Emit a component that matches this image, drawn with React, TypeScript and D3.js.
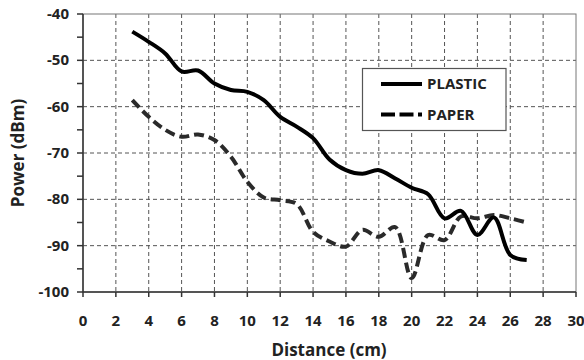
import React from 'react';
import * as d3 from 'd3';

const distance = [3, 4, 5, 6, 7, 8, 9, 10, 11, 12, 13, 14, 15, 16, 17, 18, 19, 20, 21, 22, 23, 24, 25, 26, 27];
const plastic = [-43.8, -46.0, -48.5, -52.4, -52.2, -55.0, -56.4, -56.8, -58.6, -62.2, -64.3, -66.8, -71.4, -73.7, -74.5, -73.7, -75.5, -77.5, -78.9, -84.1, -82.5, -87.7, -83.9, -92.0, -93.1];
const paper = [-58.6, -62.2, -65.0, -66.5, -66.0, -67.2, -70.8, -76.2, -79.6, -80.2, -81.0, -87.0, -89.1, -90.2, -86.6, -88.1, -86.0, -97.0, -87.7, -88.8, -83.7, -84.1, -83.4, -84.1, -85.0];
const xTicks = d3.range(0, 31, 2);
const yTicks = d3.range(-100, -39, 10);
const yMinor = d3.range(-95, -40, 10);

const W = 584;
const H = 360;
const margin = { top: 14, right: 8, bottom: 68, left: 83 };
const font = "'Open Sans', sans-serif";

export default function App() {
  const x = d3.scaleLinear().domain([0, 30]).range([margin.left, W - margin.right]);
  const y = d3.scaleLinear().domain([-100, -40]).range([H - margin.bottom, margin.top]);

  const line = d3.line<number>()
    .x((_, i) => x(distance[i]))
    .y(d => y(d))
    .curve(d3.curveCatmullRom.alpha(0.5));

  const x0 = x(0), x1 = x(30), y0 = y(-100), y1 = y(-40);

  return (
    <svg width={W} height={H} style={{ position: 'absolute', left: 0, top: 0, background: '#fff' }}>
      {/* grid */}
      <g stroke="#555" strokeWidth={1} strokeDasharray="4,3">
        {xTicks.filter(t => t > 0 && t < 30).map(t => (
          <line key={'gx' + t} x1={x(t)} x2={x(t)} y1={y1} y2={y0} />
        ))}
        {yTicks.filter(t => t > -100 && t < -40).map(t => (
          <line key={'gy' + t} x1={x0} x2={x1} y1={y(t)} y2={y(t)} />
        ))}
      </g>
      {/* plot border */}
      <rect x={x0} y={y1} width={x1 - x0} height={y0 - y1} fill="none" stroke="#777" strokeWidth={1} />
      {/* axes */}
      <line x1={x0} x2={x0} y1={y1} y2={y0} stroke="#333" strokeWidth={1.5} />
      <line x1={x0} x2={x1} y1={y0} y2={y0} stroke="#333" strokeWidth={1.5} />
      <g stroke="#333" strokeWidth={1.5}>
        {xTicks.map(t => (
          <line key={'tx' + t} x1={x(t)} x2={x(t)} y1={y0} y2={y0 + 5} />
        ))}
        {yTicks.concat(yMinor).map(t => (
          <line key={'ty' + t} x1={x0 - 6} x2={x0} y1={y(t)} y2={y(t)} />
        ))}
      </g>
      {/* tick labels */}
      <g fontFamily={font} fontWeight="bold" fontSize={15} fill="#222">
        {xTicks.map(t => (
          <text key={'lx' + t} x={x(t)} y={y0 + 34} textAnchor="middle">{t}</text>
        ))}
        {yTicks.map(t => (
          <text key={'ly' + t} x={x0 - 14} y={y(t) + 5} textAnchor="end">{t}</text>
        ))}
      </g>
      {/* axis titles */}
      <text x={329} y={356} textAnchor="middle" fontFamily={font} fontWeight="bold" fontSize={17} fill="#222">Distance (cm)</text>
      <text transform={`translate(24,${(y0 + y1) / 2}) rotate(-90)`} textAnchor="middle" fontFamily={font} fontWeight="bold" fontSize={17} fill="#222">Power (dBm)</text>
      {/* series */}
      <path d={line(paper) || ''} fill="none" stroke="#2a2a2a" strokeWidth={4} strokeDasharray="10,5" />
      <path d={line(plastic) || ''} fill="none" stroke="#000" strokeWidth={4} strokeLinejoin="round" />
      {/* legend */}
      <g>
        <rect x={362.5} y={68.5} width={143.5} height={62} fill="#fff" stroke="#555" strokeWidth={1.2} />
        <line x1={381} x2={422} y1={84} y2={84} stroke="#000" strokeWidth={4} />
        <line x1={381} x2={422} y1={114.5} y2={114.5} stroke="#000" strokeWidth={4} strokeDasharray="14,4.5" />
        <text x={427} y={89} fontFamily={font} fontWeight="bold" fontSize={15} fill="#222">PLASTIC</text>
        <text x={427} y={120} fontFamily={font} fontWeight="bold" fontSize={15} fill="#222">PAPER</text>
      </g>
    </svg>
  );
}
